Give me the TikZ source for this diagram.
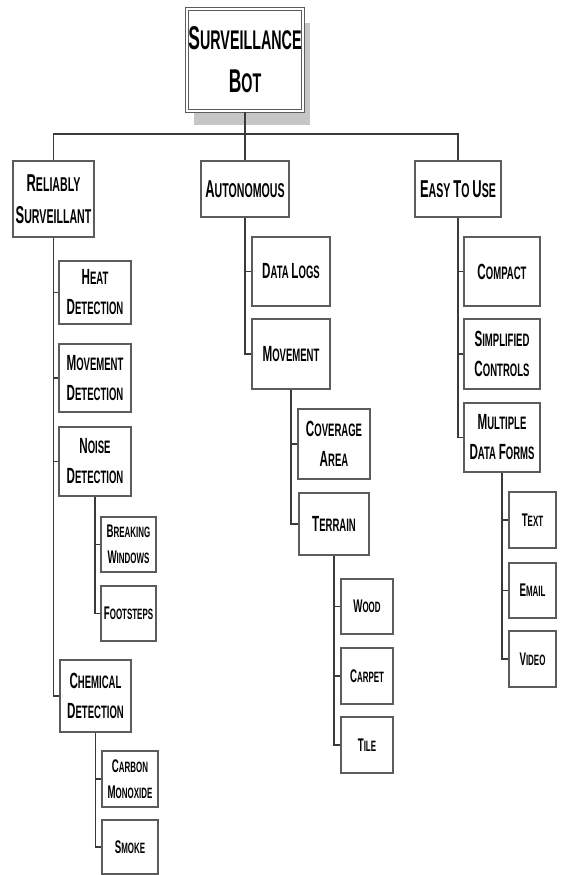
\documentclass[tikz,border=0pt]{standalone}
\usepackage{fontspec}
\setmainfont{Liberation Sans}[FakeStretch=0.53]
\usetikzlibrary{shadows}
\definecolor{boxgray}{HTML}{5C5C5C}
\definecolor{linegray}{HTML}{3A3A3A}
\definecolor{shadegray}{HTML}{C6C6C6}
\newcommand\firstl[1]{\scalebox{1.22}{#1}}

\begin{document}
\begin{tikzpicture}[x=1pt,y=-1pt,
  box/.style={draw=boxgray,line width=1.2pt,fill=white,align=center,inner sep=0pt},
  link/.style={draw=linegray,line width=1.1pt},
  lvtwo/.style={font=\fontsize{20}{32}\selectfont\bfseries},
  lvthree/.style={font=\fontsize{18}{30}\selectfont\bfseries},
  lvfour/.style={font=\fontsize{15}{26}\selectfont\bfseries}]
  \useasboundingbox (0,0) rectangle (560,875);
  % top box
  \node[box,double=white,double distance=2pt,line width=1pt,
        drop shadow={shadow xshift=7pt,shadow yshift=-14pt,fill=shadegray,opacity=1},
        minimum width=116,minimum height=102,font=\fontsize{27}{43}\selectfont\bfseries]
        (root) at (245,60) {\firstl{S}URVEILLANCE\\\firstl{B}OT};
  \coordinate (bus) at (245,134);
  \foreach \nm/\x/\y/\w/\h/\txt in {
      rel/53.5/199/81/76/{\firstl{R}ELIABLY\\\firstl{S}URVEILLANT},
      auto/245/189/88/56/{\firstl{A}UTONOMOUS},
      easy/458/189/86/56/{\firstl{E}ASY \firstl{T}O \firstl{U}SE}}
    { \node[box,lvtwo,minimum width=\w,minimum height=\h] (\nm) at (\x,\y) {\txt}; }
  \foreach \nm/\x/\y/\w/\h/\txt in {
      heat/95/292.5/72/63/{\firstl{H}EAT\\\firstl{D}ETECTION},
      movdet/95/378/72/68/{\firstl{M}OVEMENT\\\firstl{D}ETECTION},
      noise/95/461.5/72/69/{\firstl{N}OISE\\\firstl{D}ETECTION},
      chem/95.5/696/71/72/{\firstl{C}HEMICAL\\\firstl{D}ETECTION},
      logs/291/271.5/78/69/{\firstl{D}ATA \firstl{L}OGS},
      move/291/354/78/70/{\firstl{M}OVEMENT},
      cover/334/444/72/70/{\firstl{C}OVERAGE\\\firstl{A}REA},
      terrain/334/524/70/62/{\firstl{T}ERRAIN},
      compact/502/271.5/76/69/{\firstl{C}OMPACT},
      simple/502/354/76/70/{\firstl{S}IMPLIFIED\\\firstl{C}ONTROLS},
      forms/502/437.5/76/69/{\firstl{M}ULTIPLE\\\firstl{D}ATA \firstl{F}ORMS}}
    { \node[box,lvthree,minimum width=\w,minimum height=\h] (\nm) at (\x,\y) {\txt}; }
  \foreach \nm/\x/\y/\w/\h/\txt in {
      breaking/128.5/544.5/55/55/{\firstl{B}REAKING\\\firstl{W}INDOWS},
      foot/128.5/613.5/55/55/{\firstl{F}OOTSTEPS},
      carbon/130/779/56/56/{\firstl{C}ARBON\\\firstl{M}ONOXIDE},
      smoke/130/847/56/54/{\firstl{S}MOKE},
      wood/367/606.5/52/55/{\firstl{W}OOD},
      carpet/367/676/52/56/{\firstl{C}ARPET},
      tile/367/745/52/56/{\firstl{T}ILE},
      text/532.5/520/47/56/{\firstl{T}EXT},
      email/532.5/590.5/47/55/{\firstl{E}MAIL},
      video/532.5/659/47/56/{\firstl{V}IDEO}}
    { \node[box,lvfour,minimum width=\w,minimum height=\h] (\nm) at (\x,\y) {\txt}; }
  % connectors
  \draw[link] (root.south) -- (auto.north);
  \draw[link] (rel.north) |- (bus) -| (easy.north);
  \foreach \p/\c in {rel/heat,rel/movdet,rel/noise,rel/chem,noise/breaking,noise/foot,
      chem/carbon,chem/smoke,auto/logs,auto/move,move/cover,move/terrain,
      terrain/wood,terrain/carpet,terrain/tile,easy/compact,easy/simple,easy/forms,
      forms/text,forms/email,forms/video}
    { \draw[link] (\p.south) |- (\c.west); }
\end{tikzpicture}
\end{document}
